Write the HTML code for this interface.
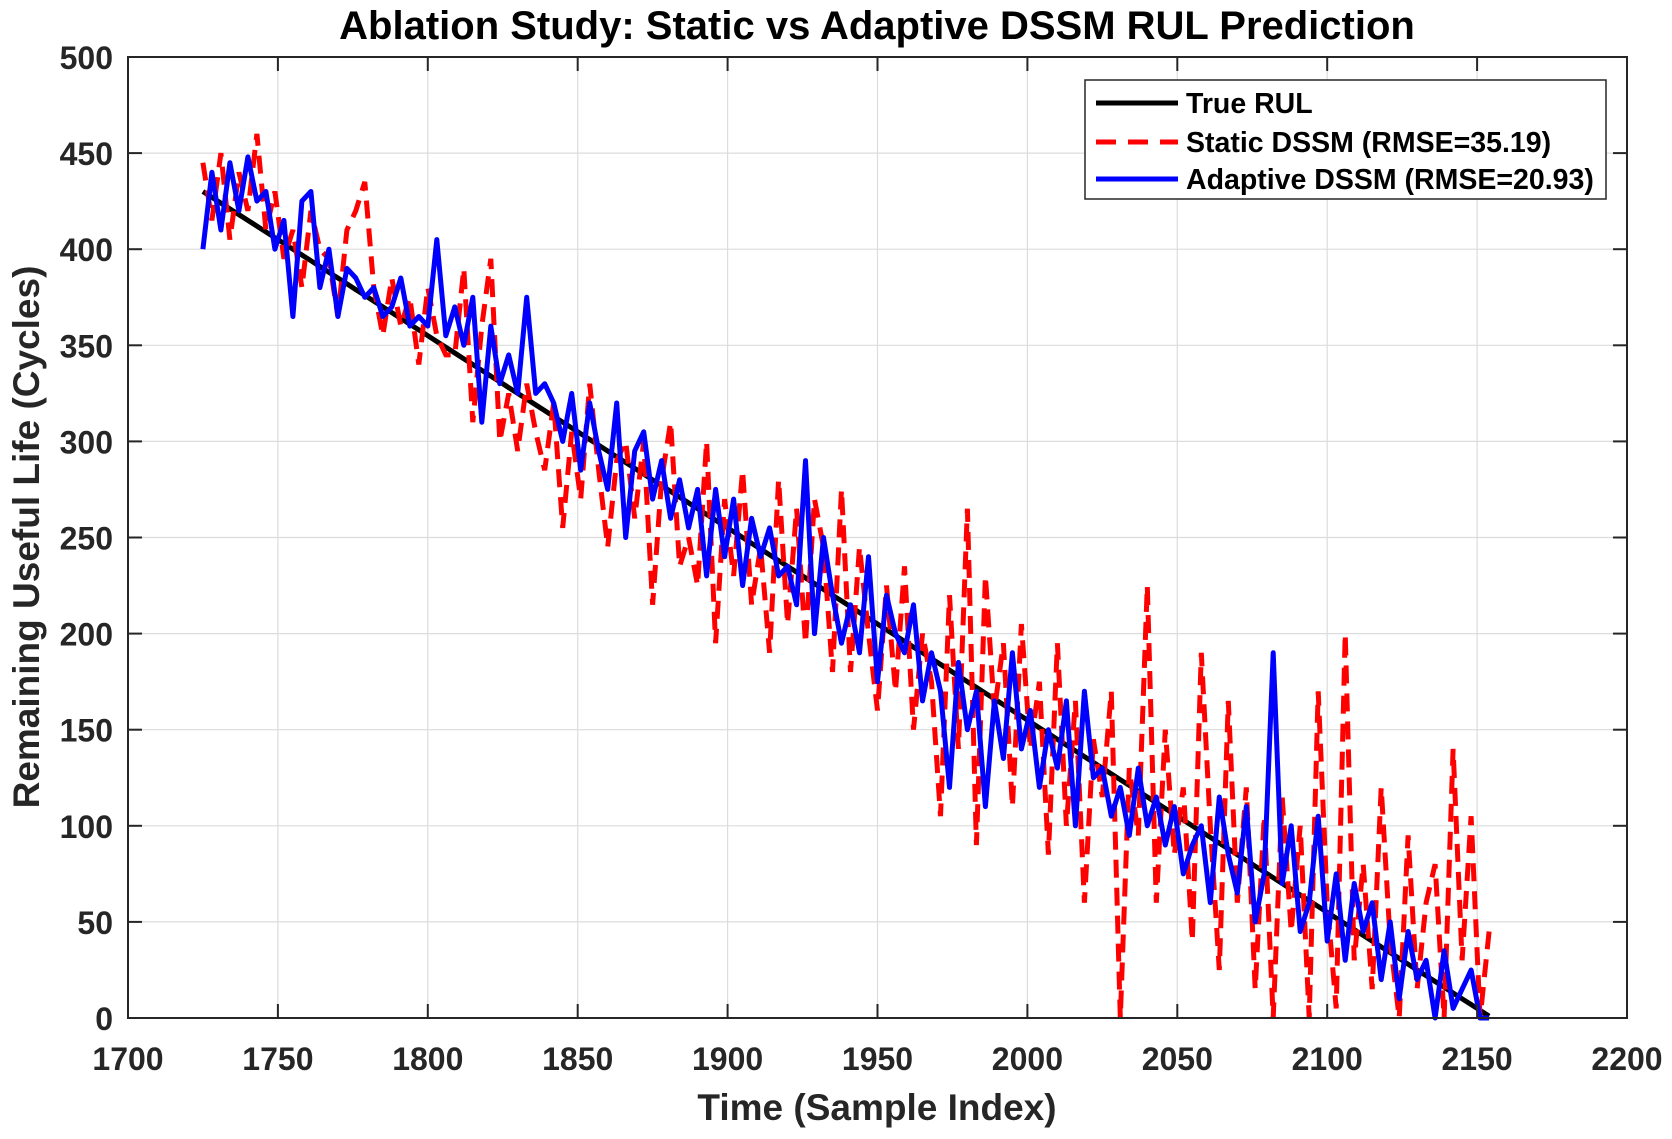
<!DOCTYPE html>
<html><head><meta charset="utf-8"><style>
html,body{margin:0;padding:0;background:#fff;}
svg{display:block;font-family:"Liberation Sans",Arial,sans-serif;}
</style></head><body>
<svg id="chart" width="1672" height="1139" viewBox="0 0 1672 1139" xmlns="http://www.w3.org/2000/svg">
<rect x="0" y="0" width="1672" height="1139" fill="#fff"/>
<g id="grid"></g>
<g id="series"></g>
<rect x="128" y="57" width="1499" height="961" fill="none" stroke="#262626" stroke-width="2"/>
<g id="ticks"></g>
<text x="877" y="39" text-anchor="middle" font-size="40" font-weight="bold" fill="#000">Ablation Study: Static vs Adaptive DSSM RUL Prediction</text>
<text x="877" y="1120" text-anchor="middle" font-size="37" font-weight="bold" fill="#262626">Time (Sample Index)</text>
<text transform="translate(39,537) rotate(-90)" text-anchor="middle" font-size="37" font-weight="bold" fill="#262626">Remaining Useful Life (Cycles)</text>
<g>
<rect x="1085" y="80" width="521" height="119" fill="#fff" stroke="#262626" stroke-width="1.5"/>
<line x1="1096" y1="103" x2="1178" y2="103" stroke="#000" stroke-width="5"/>
<text x="1186" y="113" font-size="28.5" font-weight="bold" fill="#000">True RUL</text>
<line x1="1096" y1="142" x2="1178" y2="142" stroke="#ff0000" stroke-width="5" stroke-dasharray="20,12"/>
<text x="1186" y="152" font-size="28.5" font-weight="bold" fill="#000">Static DSSM (RMSE=35.19)</text>
<line x1="1096" y1="179" x2="1178" y2="179" stroke="#0000ff" stroke-width="5"/>
<text x="1186" y="189" font-size="28.5" font-weight="bold" fill="#000">Adaptive DSSM (RMSE=20.93)</text>
</g>
</svg>
<script>
const xStart = 1725;
const xStep = 3;
const xTicks = [1700,1750,1800,1850,1900,1950,2000,2050,2100,2150,2200];
const yTicks = [0,50,100,150,200,250,300,350,400,450,500];
const trueRUL = [430,427,424,421,418,415,412,409,406,403,400,397,
394,391,388,385,382,379,376,373,370,367,364,361,
358,355,352,349,346,343,340,337,334,331,328,325,
322,319,316,313,310,307,304,301,298,295,292,289,
286,283,280,277,274,271,268,265,262,259,256,253,
250,247,244,241,238,235,232,229,226,223,220,217,
214,211,208,205,202,199,196,193,190,187,184,181,
178,175,172,169,166,163,160,157,154,151,148,145,
142,139,136,133,130,127,124,121,118,115,112,109,
106,103,100,97,94,91,88,85,82,79,76,73,
70,67,64,61,58,55,52,49,46,43,40,37,
34,31,28,25,22,19,16,13,10,7,4,1];
const staticPred = [445,415,450,405,440,420,460,410,430,395,410,380,
420,400,395,365,410,420,435,380,355,385,360,375,
340,380,355,345,345,390,310,360,395,300,325,295,
330,305,285,320,255,305,270,330,285,245,290,300,
260,300,215,280,310,235,250,225,300,195,270,230,
285,215,245,190,280,205,265,195,270,245,180,275,
180,245,200,160,225,170,235,150,200,175,105,220,
140,265,90,230,160,195,110,205,140,175,85,195,
100,165,60,145,115,170,0,130,95,225,60,150,
85,120,40,190,100,25,165,60,120,15,105,0,
115,45,100,0,170,60,5,200,30,80,15,120,
40,0,95,15,60,80,0,140,30,105,0,45];
const adaptivePred = [400,440,410,445,420,448,425,430,400,415,365,425,
430,380,400,365,390,385,375,380,365,370,385,360,
365,360,405,355,370,350,375,310,360,330,345,325,
375,325,330,320,300,325,285,320,295,275,320,250,
295,305,270,290,260,280,255,275,230,275,240,270,
225,260,240,255,230,235,215,290,200,250,220,195,
215,190,240,175,220,200,190,215,165,190,170,120,
185,150,170,110,165,135,190,140,160,120,150,130,
165,100,170,125,130,105,120,95,130,100,115,90,
110,75,90,100,60,115,85,65,110,50,75,190,
70,100,45,60,105,40,75,30,70,45,60,20,
50,10,45,20,30,0,35,5,15,25,0,0];

const L=128,R=1627,T=57,B=1018;
const xs = v => L + (v-1700)/500*(R-L);
const ys = v => B - v/500*(B-T);
const NS="http://www.w3.org/2000/svg";
function mk(tag, attrs, parent){const e=document.createElementNS(NS,tag);for(const k in attrs)e.setAttribute(k,attrs[k]);parent.appendChild(e);return e;}
const grid=document.getElementById('grid'), ticks=document.getElementById('ticks'), series=document.getElementById('series');
xTicks.forEach(t=>{
  const g=mk('line',{x1:xs(t),x2:xs(t),y1:T,y2:B,stroke:'#dcdcdc','stroke-width':1.2},grid);
  
  
  const a=mk('line',{x1:xs(t),x2:xs(t),y1:B,y2:B-14,stroke:'#262626','stroke-width':2},ticks);
  
  
  const b=mk('line',{x1:xs(t),x2:xs(t),y1:T,y2:T+14,stroke:'#262626','stroke-width':2},ticks);
  
  
  const tx=mk('text',{x:xs(t),y:1070,'text-anchor':'middle','font-size':32,'font-weight':'bold',fill:'#262626'},ticks);
  tx.textContent=t;
  
  
});
yTicks.forEach(t=>{
  const g=mk('line',{x1:L,x2:R,y1:ys(t),y2:ys(t),stroke:'#dcdcdc','stroke-width':1.2},grid);
  
  
  const a=mk('line',{x1:L,x2:L+14,y1:ys(t),y2:ys(t),stroke:'#262626','stroke-width':2},ticks);
  
  
  const b=mk('line',{x1:R,x2:R-14,y1:ys(t),y2:ys(t),stroke:'#262626','stroke-width':2},ticks);
  
  
  const tx=mk('text',{x:113,y:ys(t)+12,'text-anchor':'end','font-size':32,'font-weight':'bold',fill:'#262626'},ticks);
  tx.textContent=t;
  
  
});
function pts(arr){return arr.map((v,i)=>xs(xStart+i*xStep).toFixed(1)+','+ys(v).toFixed(1)).join(' ');}
const pT=mk('polyline',{points:pts(trueRUL),fill:'none',stroke:'#000','stroke-width':5},series);


const pS=mk('polyline',{points:pts(staticPred),fill:'none',stroke:'#ff0000','stroke-width':5,'stroke-dasharray':'18,10'},series);


const pA=mk('polyline',{points:pts(adaptivePred),fill:'none',stroke:'#0000ff','stroke-width':5,'stroke-linejoin':'round'},series);


</script>
</body></html>
